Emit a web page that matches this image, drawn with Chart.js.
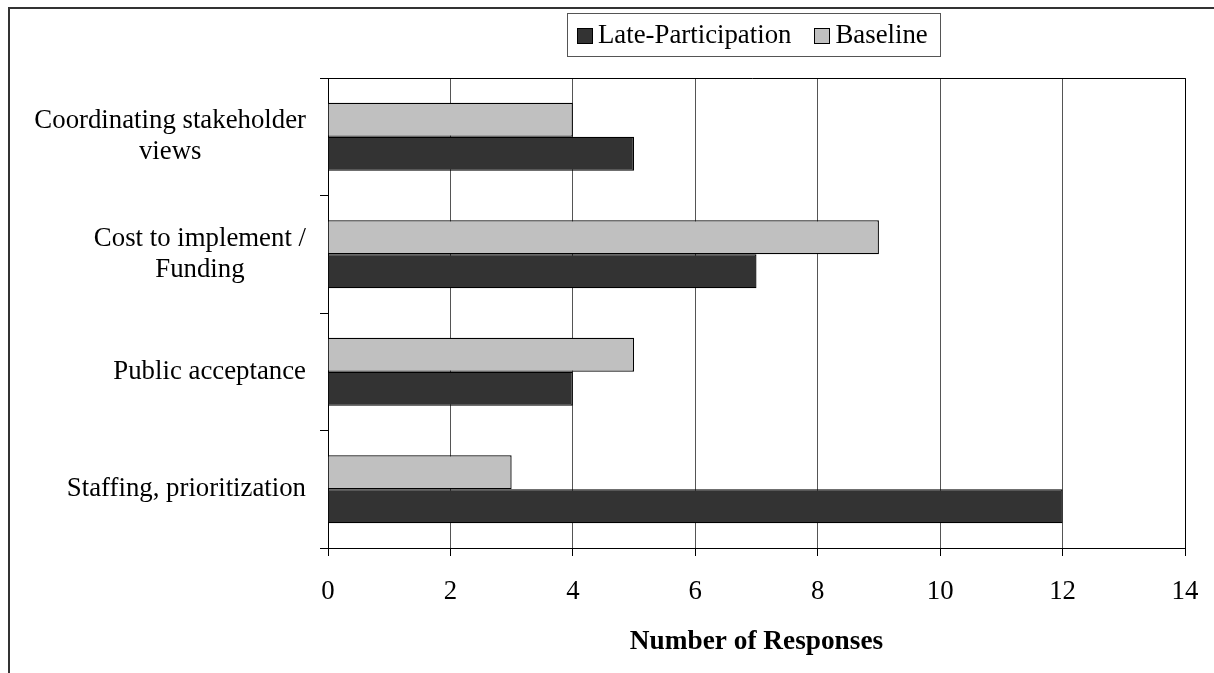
<!DOCTYPE html>
<html>
<head>
<meta charset="utf-8">
<script src="https://cdn.jsdelivr.net/npm/chart.js@4.4.1/dist/chart.umd.min.js"></script>
<style>
  html, body { margin: 0; padding: 0; background: #ffffff; }
  #wrap { width: 1214px; height: 673px; position: relative; }
</style>
</head>
<body>
<div id="wrap"><canvas id="chart" width="1214" height="673"></canvas></div>
<script>
// Barrier categories, top to bottom
const categories = [
  ['Coordinating stakeholder', 'views'],
  ['Cost to implement /', 'Funding'],
  ['Public acceptance'],
  ['Staffing, prioritization']
];
const baselineValues = [4, 9, 5, 3];
const lateParticipationValues = [5, 7, 4, 12];
const xTicks = [0, 2, 4, 6, 8, 10, 12, 14];
const xTitle = 'Number of Responses';

const FONT = '"Liberation Serif", "Times New Roman", serif';
const FSIZE = 26.8;

// Outer frame, plot-area border, category labels and the boxed legend
const decorations = {
  id: 'decorations',
  beforeDraw(chart) {
    const ctx = chart.ctx;
    ctx.save();
    ctx.fillStyle = '#ffffff';
    ctx.fillRect(0, 0, chart.width, chart.height);
    ctx.strokeStyle = '#333333';
    ctx.lineWidth = 2;
    ctx.beginPath();
    ctx.moveTo(9, chart.height);
    ctx.lineTo(9, 8);
    ctx.lineTo(chart.width, 8);
    ctx.stroke();
    ctx.restore();
  },
  afterDraw(chart) {
    const ctx = chart.ctx;
    const a = chart.chartArea;
    ctx.save();
    // plot area top & right border
    ctx.strokeStyle = '#000000';
    ctx.lineWidth = 1;
    ctx.beginPath();
    ctx.moveTo(a.left - 8, Math.round(a.top) + 0.5);
    ctx.lineTo(Math.round(a.right) + 0.5, Math.round(a.top) + 0.5);
    ctx.lineTo(Math.round(a.right) + 0.5, a.bottom);
    ctx.stroke();

    // category labels: block right-aligned, lines centred inside the block
    const yScale = chart.scales.y;
    ctx.font = FSIZE + 'px ' + FONT;
    ctx.fillStyle = '#000000';
    ctx.textBaseline = 'middle';
    ctx.textAlign = 'center';
    const rightEdge = 306;
    const lh = 31;
    chart.data.labels.forEach((lines, i) => {
      const cy = yScale.getPixelForValue(i);
      const w = Math.max(...lines.map(l => ctx.measureText(l).width));
      const cx = rightEdge - w / 2;
      const y0 = cy - (lines.length - 1) * lh / 2;
      lines.forEach((l, j) => ctx.fillText(l, cx, y0 + j * lh));
    });

    // legend box (entries in reverse dataset order)
    const items = chart.data.datasets.slice().reverse();
    const boxL = 567, boxT = 13, boxB = 56, sq = 15;
    let x = boxL + 10;
    const cy = (boxT + boxB) / 2 + 1;
    ctx.textAlign = 'left';
    const parts = items.map(ds => ({ ds, w: ctx.measureText(ds.label).width }));
    parts.forEach((p, i) => {
      ctx.fillStyle = p.ds.backgroundColor;
      ctx.fillRect(x, cy - sq / 2, sq, sq);
      ctx.strokeStyle = '#000000';
      ctx.lineWidth = 1;
      ctx.strokeRect(Math.round(x) + 0.5, Math.round(cy - sq / 2) + 0.5, sq, sq);
      x += sq + 6;
      ctx.fillStyle = '#000000';
      ctx.fillText(p.ds.label, x, cy);
      x += p.w + (i < parts.length - 1 ? 23 : 12);
    });
    ctx.strokeStyle = '#555555';
    ctx.lineWidth = 1;
    ctx.strokeRect(boxL + 0.5, boxT + 0.5, Math.round(x - boxL), boxB - boxT);
    ctx.restore();
  }
};

new Chart(document.getElementById('chart'), {
  type: 'bar',
  data: {
    labels: categories,
    datasets: [
      {
        label: 'Baseline',
        data: baselineValues,
        backgroundColor: '#c0c0c0',
        borderColor: '#000000',
        borderWidth: 1.3
      },
      {
        label: 'Late-Participation',
        data: lateParticipationValues,
        backgroundColor: '#333333',
        borderColor: '#000000',
        borderWidth: 1.3
      }
    ]
  },
  options: {
    indexAxis: 'y',
    responsive: false,
    animation: false,
    devicePixelRatio: 1,
    layout: { padding: { top: 78, right: 29, left: 0, bottom: 0 } },
    datasets: { bar: { categoryPercentage: 0.578, barPercentage: 1.0 } },
    plugins: {
      legend: { display: false },
      tooltip: { enabled: false }
    },
    scales: {
      x: {
        min: 0,
        max: 14,
        afterBuildTicks(scale) { scale.ticks = xTicks.map(v => ({ value: v })); },
        afterFit(scale) {
          scale.height = 673 - 548;
          scale.paddingRight = 0;
        },
        grid: {
          color: '#555555',
          lineWidth: 1,
          tickLength: 8,
          tickColor: '#000000',
          drawOnChartArea: true
        },
        border: { display: true, color: '#000000', width: 1 },
        ticks: {
          color: '#000000',
          padding: 20,
          maxRotation: 0,
          font: { family: FONT, size: FSIZE }
        },
        title: {
          display: true,
          text: xTitle,
          color: '#000000',
          font: { family: FONT, size: 27.3, weight: 'bold' },
          padding: { top: 0, bottom: 15 }
        }
      },
      y: {
        afterFit(scale) { scale.width = 328; },
        grid: {
          offset: true,
          drawOnChartArea: false,
          tickLength: 8,
          tickColor: '#000000'
        },
        border: { display: true, color: '#000000', width: 1 },
        ticks: { display: true, color: 'rgba(0,0,0,0)', font: { family: FONT, size: 1 } }
      }
    }
  },
  plugins: [decorations]
});
</script>
</body>
</html>
